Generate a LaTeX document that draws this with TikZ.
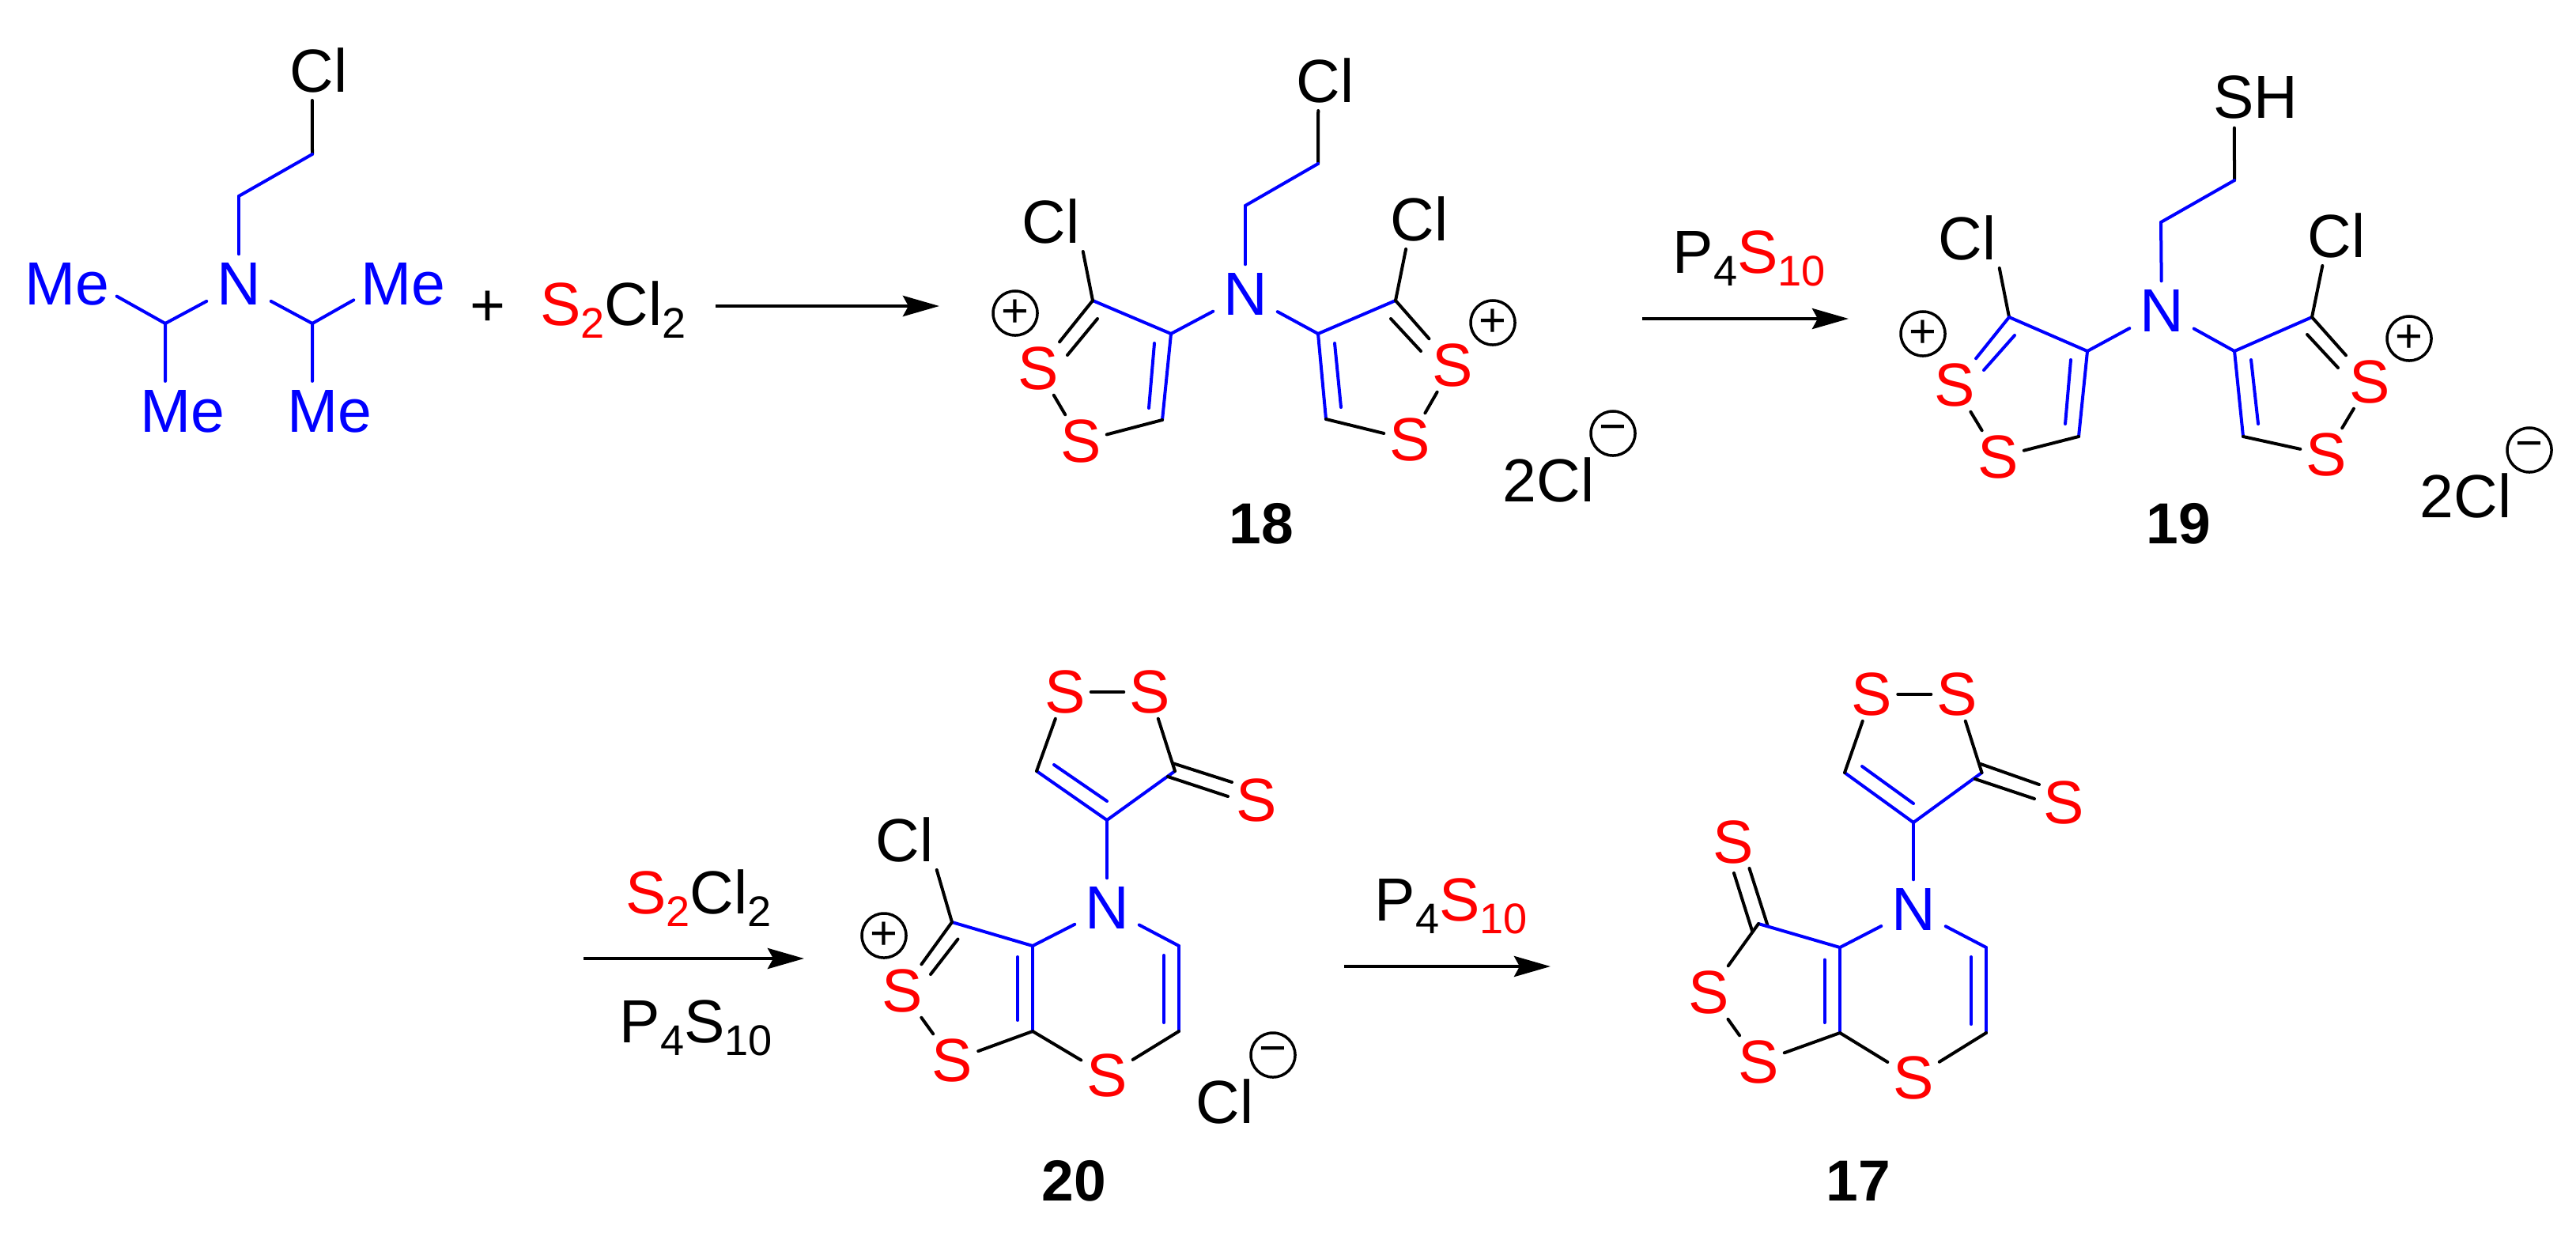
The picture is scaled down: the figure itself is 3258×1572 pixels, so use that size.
\documentclass[tikz,border=0pt]{standalone}
\usepackage{fontspec}
\setmainfont{Liberation Sans}
\usetikzlibrary{arrows.meta}
\definecolor{bondblue}{RGB}{0,0,255}
\definecolor{atomred}{RGB}{255,0,0}
\newcommand\bigf{\fontsize{21.9}{26}\selectfont}
\newcommand\sbs[1]{\raisebox{-0.16cm}{\fontsize{15.4}{18}\selectfont #1}}
\tikzset{
  x=0.01cm,y=-0.01cm,
  bl/.style={draw=bondblue,line width=0.04cm,line cap=round,line join=round},
  kb/.style={draw=black,line width=0.04cm,line cap=round,line join=round},
  txt/.style={font=\bigf,inner sep=0,text=black},
  sat/.style={font=\bigf,text=atomred,inner sep=0,minimum width=0.64cm,minimum height=0.66cm},
  nat/.style={font=\bigf,text=bondblue,inner sep=0,minimum width=0.8cm,minimum height=0.74cm},
  clat/.style={font=\bigf,text=black,inner xsep=0.07cm,inner ysep=0.09cm},
  meat/.style={font=\bigf,text=bondblue,inner xsep=0.085cm,inner ysep=0.105cm},
  chg/.style={circle,draw=black,line width=0.035cm,minimum size=0.56cm,inner sep=0,font=\fontsize{17}{20}\selectfont},
  lbl/.style={font=\fontsize{20.8}{25}\selectfont\bfseries,inner sep=0,anchor=base},
  rarrow/.style={draw=black,line width=0.045cm,-{Stealth[length=0.46cm,width=0.26cm,inset=0.07cm]}},
}
\begin{document}
\begin{tikzpicture}
\useasboundingbox (0,0) rectangle (3258,1572);
% --- amine
\node[clat] (aCl) at (403,89) {Cl};
\node[nat] (aN) at (302,359) {N};
\node[meat] (aMe1) at (85,359) {Me};
\node[meat] (aMe2) at (510,359) {Me};
\node[meat] (aMe3) at (231,520) {Me};
\node[meat] (aMe4) at (417,520) {Me};
\coordinate (ac1) at (395,195);
\coordinate (ac2) at (302,248);
\coordinate (ac3) at (209,409);
\coordinate (ac4) at (395,409);
\draw[kb] (ac1) -- (aCl.-102);
\draw[bl] (ac1) -- (ac2);
\draw[bl] (ac2) -- (aN);
\draw[bl] (aN) -- (ac3);
\draw[bl] (aN) -- (ac4);
\draw[bl] (ac3) -- (aMe1.-14);
\draw[bl] (ac4) -- (aMe2.198);
\draw[bl] (ac3) -- (aMe3.120);
\draw[bl] (ac4) -- (aMe4.120);
\node[txt,anchor=base] (plus) at (617,412) {+};
\node[txt,anchor=base west] (rgA) at (682.5,411) {\textcolor{atomred}{S\sbs{2}}Cl\sbs{2}};
\coordinate (ar1s) at (905,387);
\coordinate (ar1e) at (1188,387);
\draw[rarrow] (ar1s) -- (ar1e);
% --- 18
\node[clat] (bCl) at (1676,102) {Cl};
\node[clat] (bCl1) at (1329,280) {Cl};
\node[clat] (bCl2) at (1795,277) {Cl};
\node[nat] (bN) at (1575,372) {N};
\node[sat] (bS1) at (1313,466) {S};
\node[sat] (bS2) at (1367,558) {S};
\node[sat] (bS3) at (1837,462) {S};
\node[sat] (bS4) at (1783,556) {S};
\coordinate (b1) at (1667,207);
\coordinate (b2) at (1575,260);
\coordinate (b3) at (1481,422);
\coordinate (b4) at (1667,422);
\coordinate (b5) at (1382,380);
\coordinate (b6) at (1765,380);
\coordinate (b7) at (1470,531);
\coordinate (b8) at (1677,530);
\coordinate (bi1) at (1388,403);
\coordinate (bi2) at (1350,449);
\coordinate (bi3) at (1759,403);
\coordinate (bi4) at (1797,444);
\coordinate (bi5) at (1460,434);
\coordinate (bi6) at (1453,516);
\coordinate (bi7) at (1688,434);
\coordinate (bi8) at (1696,515);
\draw[kb] (b1) -- (bCl.-103);
\draw[bl] (b1) -- (b2);
\draw[bl] (b2) -- (bN);
\draw[bl] (bN) -- (b3);
\draw[bl] (bN) -- (b4);
\draw[bl] (b3) -- (b5);
\draw[bl] (b4) -- (b6);
\draw[kb] (b5) -- (bCl1.-43);
\draw[kb] (b6) -- (bCl2.-114);
\draw[kb] (b5) -- (bS1);
\draw[kb] (bi1) -- (bi2);
\draw[kb] (b6) -- (bS3);
\draw[kb] (bi3) -- (bi4);
\draw[kb] (bS1) -- (bS2);
\draw[kb] (bS3) -- (bS4);
\draw[bl] (b3) -- (b7);
\draw[bl] (bi5) -- (bi6);
\draw[bl] (b4) -- (b8);
\draw[bl] (bi7) -- (bi8);
\draw[kb] (b7) -- (bS2);
\draw[kb] (b8) -- (bS4);
\node[chg] (bp1) at (1284,396) {+};
\node[chg] (bp2) at (1888,408) {+};
\node[txt,anchor=base west] (bCm) at (1900,634) {2Cl};
\node[chg] (bm) at (2040,548) {−};
\node[lbl] (b18) at (1595,687) {18};
\coordinate (ar2s) at (2077,403);
\coordinate (ar2e) at (2338,403);
\draw[rarrow] (ar2s) -- (ar2e);
\node[txt,anchor=base west] (rgB) at (2115,345) {P\sbs{4}\textcolor{atomred}{S\sbs{10}}};
% --- 19
\node[txt,minimum height=0.76cm,minimum width=1.07cm] (cSH) at (2853,123) {SH};
\node[clat] (cCl1) at (2488,301) {Cl};
\node[clat] (cCl2) at (2955,298) {Cl};
\node[nat] (cN) at (2734,393) {N};
\node[sat] (cS1) at (2472,487) {S};
\node[sat] (cS2) at (2527,578) {S};
\node[sat] (cS3) at (2997,483) {S};
\node[sat] (cS4) at (2942,575) {S};
\coordinate (c1) at (2826,228);
\coordinate (c2) at (2733,281);
\coordinate (c3) at (2640,444);
\coordinate (c4) at (2826,444);
\coordinate (c5) at (2541,401);
\coordinate (c6) at (2924,401);
\coordinate (c7) at (2629,552);
\coordinate (c8) at (2837,552);
\coordinate (ci1) at (2548,424);
\coordinate (ci2) at (2509,468);
\coordinate (ci3) at (2918,423);
\coordinate (ci4) at (2957,465);
\coordinate (ci5) at (2619,455);
\coordinate (ci6) at (2612,536);
\coordinate (ci7) at (2847,455);
\coordinate (ci8) at (2856,536);
\draw[kb] (c1) -- (cSH.-125);
\draw[bl] (c1) -- (c2);
\draw[bl] (c2) -- (cN);
\draw[bl] (cN) -- (c3);
\draw[bl] (cN) -- (c4);
\draw[bl] (c3) -- (c5);
\draw[bl] (c4) -- (c6);
\draw[kb] (c5) -- (cCl1.-43);
\draw[kb] (c6) -- (cCl2.-115);
\draw[bl] (c5) -- (cS1);
\draw[bl] (ci1) -- (ci2);
\draw[kb] (c6) -- (cS3);
\draw[kb] (ci3) -- (ci4);
\draw[kb] (cS1) -- (cS2);
\draw[kb] (cS3) -- (cS4);
\draw[bl] (c3) -- (c7);
\draw[bl] (ci5) -- (ci6);
\draw[bl] (c4) -- (c8);
\draw[bl] (ci7) -- (ci8);
\draw[kb] (c7) -- (cS2);
\draw[kb] (c8) -- (cS4);
\node[chg] (cp1) at (2432,422) {+};
\node[chg] (cp2) at (3047,428) {+};
\node[txt,anchor=base west] (cCm) at (3060,654) {2Cl};
\node[chg] (cm) at (3199,569) {−};
\node[lbl] (c19) at (2755,687) {19};
% --- reagents row 2
\coordinate (ar3s) at (738,1212);
\coordinate (ar3e) at (1017,1212);
\draw[rarrow] (ar3s) -- (ar3e);
\node[txt,anchor=base west] (rgC) at (790.5,1155.5) {\textcolor{atomred}{S\sbs{2}}Cl\sbs{2}};
\node[txt,anchor=base west] (rgD) at (783,1318) {P\sbs{4}S\sbs{10}};
% --- 20
\node[clat] (dCl) at (1144,1062) {Cl};
\node[nat] (dN) at (1400,1148) {N};
\node[sat] (dS1) at (1141,1253) {S};
\node[sat] (dS2) at (1204.5,1341) {S};
\node[sat] (dS3) at (1400,1360) {S};
\node[sat] (dS4) at (1347,875) {S};
\node[sat] (dS5) at (1454,875) {S};
\node[sat] (dS6) at (1589,1012) {S};
\coordinate (d1) at (1204,1166);
\coordinate (d2) at (1306,1196);
\coordinate (d3) at (1306,1304);
\coordinate (d4) at (1491,1196);
\coordinate (d5) at (1491,1304);
\coordinate (d6) at (1400,1037);
\coordinate (d7) at (1311,975);
\coordinate (d8) at (1486,975);
\coordinate (di1) at (1211.5,1187.5);
\coordinate (di2) at (1177,1232);
\coordinate (di3) at (1287,1210);
\coordinate (di4) at (1287,1290);
\coordinate (di5) at (1472,1208);
\coordinate (di6) at (1472,1293);
\coordinate (di7) at (1333,967);
\coordinate (di8) at (1400,1013);
\coordinate (dx1) at (1483,965);
\coordinate (dx2) at (1558,989);
\coordinate (dx3) at (1477,982);
\coordinate (dx4) at (1553,1007);
\draw[kb] (d1) -- (dCl.-43);
\draw[bl] (d1) -- (d2);
\draw[kb] (d1) -- (dS1);
\draw[kb] (di1) -- (di2);
\draw[kb] (dS1) -- (dS2);
\draw[kb] (d3) -- (dS2);
\draw[bl] (d2) -- (d3);
\draw[bl] (di3) -- (di4);
\draw[bl] (d2) -- (dN);
\draw[bl] (dN) -- (d4);
\draw[bl] (d4) -- (d5);
\draw[bl] (di5) -- (di6);
\draw[kb] (d3) -- (dS3);
\draw[kb] (d5) -- (dS3);
\draw[bl] (dN) -- (d6);
\draw[bl] (d6) -- (d7);
\draw[bl] (d6) -- (d8);
\draw[bl] (di7) -- (di8);
\draw[kb] (d7) -- (dS4);
\draw[kb] (d8) -- (dS5);
\draw[kb] (dS4) -- (dS5);
\draw[kb] (dx1) -- (dx2);
\draw[kb] (dx3) -- (dx4);
\node[chg] (dp) at (1118,1183) {+};
\node[chg] (dm) at (1610,1334) {−};
\node[txt] (dCm) at (1549,1393) {Cl};
\node[lbl] (d20) at (1358,1518) {20};
% --- arrow 4
\coordinate (ar4s) at (1700,1222);
\coordinate (ar4e) at (1961,1222);
\draw[rarrow] (ar4s) -- (ar4e);
\node[txt,anchor=base west] (rgE) at (1738,1164) {P\sbs{4}\textcolor{atomred}{S\sbs{10}}};
% --- 17
\node[nat] (eN) at (2420,1150) {N};
\node[sat] (eS0) at (2192,1065) {S};
\node[sat] (eS1) at (2161.5,1255) {S};
\node[sat] (eS2) at (2224,1343) {S};
\node[sat] (eS3) at (2420,1363) {S};
\node[sat] (eS4) at (2367.5,878) {S};
\node[sat] (eS5) at (2475,878) {S};
\node[sat] (eS6) at (2610,1015) {S};
\coordinate (e1) at (2224,1168);
\coordinate (e2) at (2327,1198);
\coordinate (e3) at (2327,1306);
\coordinate (e4) at (2512,1198);
\coordinate (e5) at (2512,1306);
\coordinate (e6) at (2420,1040);
\coordinate (e7) at (2333,977);
\coordinate (e8) at (2506.5,977);
\coordinate (ei3) at (2307.5,1213.6);
\coordinate (ei4) at (2307.5,1293);
\coordinate (ei5) at (2493,1210);
\coordinate (ei6) at (2493,1295);
\coordinate (ei7) at (2355,969);
\coordinate (ei8) at (2420,1016);
\coordinate (ey1) at (2193,1104);
\coordinate (ey2) at (2216,1177);
\coordinate (ey3) at (2212.5,1098);
\coordinate (ey4) at (2235.5,1170);
\coordinate (ex1) at (2505,966);
\coordinate (ex2) at (2579,992);
\coordinate (ex3) at (2498,985);
\coordinate (ex4) at (2573,1010);
\draw[kb] (ey1) -- (ey2);
\draw[kb] (ey3) -- (ey4);
\draw[bl] (e1) -- (e2);
\draw[kb] (e1) -- (eS1);
\draw[kb] (eS1) -- (eS2);
\draw[kb] (e3) -- (eS2);
\draw[bl] (e2) -- (e3);
\draw[bl] (ei3) -- (ei4);
\draw[bl] (e2) -- (eN);
\draw[bl] (eN) -- (e4);
\draw[bl] (e4) -- (e5);
\draw[bl] (ei5) -- (ei6);
\draw[kb] (e3) -- (eS3);
\draw[kb] (e5) -- (eS3);
\draw[bl] (eN) -- (e6);
\draw[bl] (e6) -- (e7);
\draw[bl] (e6) -- (e8);
\draw[bl] (ei7) -- (ei8);
\draw[kb] (e7) -- (eS4);
\draw[kb] (e8) -- (eS5);
\draw[kb] (eS4) -- (eS5);
\draw[kb] (ex1) -- (ex2);
\draw[kb] (ex3) -- (ex4);
\node[lbl] (e17) at (2350,1518) {17};
\end{tikzpicture}
\end{document}
